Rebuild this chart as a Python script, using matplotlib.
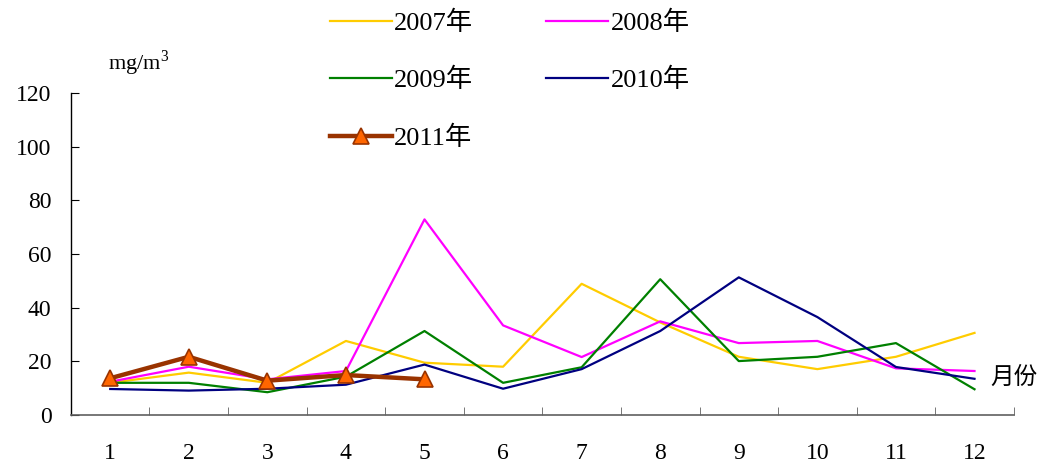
import matplotlib.pyplot as plt
from matplotlib.ticker import FixedLocator

plt.rcParams['font.family'] = ['Liberation Serif', 'Noto Sans CJK SC', 'DejaVu Sans']

months = [1, 2, 3, 4, 5, 6, 7, 8, 9, 10, 11, 12]
month_labels = [str(m) for m in months]
y2007 = [12.0, 15.8, 12.0, 27.6, 19.5, 18.0, 48.9, 34.5, 21.7, 17.1, 21.7, 30.6]
y2008 = [12.4, 18.0, 13.3, 16.4, 72.9, 33.4, 21.6, 34.9, 26.8, 27.6, 17.4, 16.4]
y2009 = [12.0, 12.0, 8.5, 14.3, 31.3, 12.0, 17.8, 50.6, 20.1, 21.7, 26.8, 9.6]
y2010 = [9.7, 9.1, 9.8, 11.3, 18.8, 9.8, 17.1, 31.3, 51.3, 36.5, 17.9, 13.5]
m2011 = [1, 2, 3, 4, 5]
y2011 = [13.7, 21.7, 12.8, 14.9, 13.3]

fig = plt.figure(figsize=(10.43, 4.67), dpi=100)
ax = fig.add_axes([0.068, 0.1113, 0.904, 0.6896])

l07, = ax.plot(months, y2007, color='#FFCC00', lw=1.6, label='2007年')
l08, = ax.plot(months, y2008, color='#FF00FF', lw=1.6, label='2008年')
l09, = ax.plot(months, y2009, color='#008000', lw=1.6, label='2009年')
l10, = ax.plot(months, y2010, color='#000080', lw=1.6, label='2010年')
l11, = ax.plot(m2011, y2011, color='#993300', lw=3.2, marker='^', ms=11,
               mfc='#FF6600', mec='#993300', mew=1.2, label='2011年')

ax.set_xlim(0.5, 12.5)
ax.set_ylim(0, 120)
ax.set_yticks([0, 20, 40, 60, 80, 100, 120])
ax.set_xticks(months)
ax.set_xticklabels(month_labels)
ax.xaxis.set_minor_locator(FixedLocator([i + 0.5 for i in range(0, 13)]))
ax.tick_params(axis='x', which='major', length=0, pad=20, labelsize=17)
ax.tick_params(axis='x', which='minor', direction='in', length=6, color='#606060')
ax.tick_params(axis='y', direction='in', length=6, pad=14, labelsize=17)
ax.spines['top'].set_visible(False)
ax.spines['right'].set_visible(False)
ax.spines['bottom'].set_color('#606060')
ax.spines['bottom'].set_linewidth(1.2)
ax.spines['left'].set_linewidth(1.0)

fig.text(108 / 1043, 1 - 70 / 467, r'mg/m$^{\mathregular{3}}$', fontsize=16, va='baseline')
ax.text(12.2, 14, '月份', fontsize=17, va='center', ha='left')

handles = [l07, l09, l11, l08, l10]
fig.legend(handles=handles, labels=[h.get_label() for h in handles], ncol=2,
           loc='upper left', bbox_to_anchor=(319 / 1043, 1.0), borderaxespad=0,
           frameon=False, fontsize=19, handlelength=2.35, handletextpad=0.1,
           labelspacing=1.26, columnspacing=2.75)

fig.savefig('out.png', dpi=100)
